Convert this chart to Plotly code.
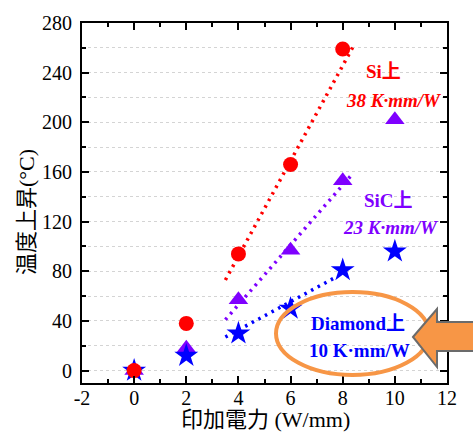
import plotly.graph_objects as go

# ---- data ----
power = [0, 2, 4, 6, 8, 10]
si_x = [0, 2, 4, 6, 8]
si_y = [0, 38, 94, 166, 259]
sic_y = [0, 18, 57, 97, 153, 202]
dia_y = [0, 12, 30, 50, 81, 96]

si_fit_x = [3.5, 8.4]
si_fit_y = [73, 261]
sic_fit_x = [3.5, 8.4]
sic_fit_y = [41, 159]
dia_fit_x = [3.5, 7.8]
dia_fit_y = [27, 76]

x_ticks = [-2, 0, 2, 4, 6, 8, 10, 12]
y_ticks = [0, 40, 80, 120, 160, 200, 240, 280]

RED = "#FF0000"
PURPLE = "#7F00FF"
BLUE = "#0000FF"
ORANGE = "#F79646"

W, H = 473, 432
L, R, T, B = 82, 447, 23, 383


def px(x):
    return (x - L) / (R - L)


def py(y):
    return (B - y) / (B - T)


fig = go.Figure()

fig.add_trace(go.Scatter(x=power, y=sic_y, mode="markers",
                         marker=dict(symbol="triangle-up", size=17, color=PURPLE),
                         showlegend=False))
fig.add_trace(go.Scatter(x=power, y=dia_y, mode="markers",
                         marker=dict(symbol="star", size=18, color=BLUE),
                         showlegend=False))
fig.add_trace(go.Scatter(x=si_x, y=si_y, mode="markers",
                         marker=dict(symbol="circle", size=15, color=RED),
                         showlegend=False))

for fx, fy, c in [(si_fit_x, si_fit_y, RED), (sic_fit_x, sic_fit_y, PURPLE),
                  (dia_fit_x, dia_fit_y, BLUE)]:
    fig.add_trace(go.Scatter(x=fx, y=fy, mode="lines",
                             line=dict(color=c, width=3.5, dash="2.5px,5px"),
                             showlegend=False))

serif = "Liberation Serif, Noto Sans CJK JP"

annos = [
    ("<b>Si上</b>", 383, 72, RED),
    ("<b><i>38 K·mm/W</i></b>", 393, 100, RED),
    ("<b>SiC上</b>", 388, 200, PURPLE),
    ("<b><i>23 K·mm/W</i></b>", 390, 227, PURPLE),
    ("<b>Diamond上</b>", 358, 323, BLUE),
    ("<b>10 K·mm/W</b>", 359, 350, BLUE),
]
for text, ax, ay, c in annos:
    fig.add_annotation(x=px(ax), y=py(ay), xref="paper", yref="paper",
                       text=text, showarrow=False, xanchor="center", yanchor="middle",
                       font=dict(family=serif, size=19, color=c))

# axis titles
fig.add_annotation(x=px(265), y=py(419), xref="paper", yref="paper",
                   text="印加電力 (W/mm)", showarrow=False,
                   xanchor="center", yanchor="middle",
                   font=dict(family=serif, size=22, color="black"))
fig.add_annotation(x=px(26), y=py(212), xref="paper", yref="paper",
                   text="温度上昇(°C)", showarrow=False, textangle=-90,
                   xanchor="center", yanchor="middle",
                   font=dict(family=serif, size=22, color="black"))

# orange ellipse
fig.add_shape(type="circle", xref="paper", yref="paper",
              x0=px(276), x1=px(429), y0=py(375), y1=py(292),
              line=dict(color=ORANGE, width=4), layer="above")

# block arrow
pts = [(413, 337), (437, 309), (437, 322), (480, 322), (480, 351), (437, 351), (437, 367)]
path = "M " + " L ".join(f"{px(a):.4f},{py(b):.4f}" for a, b in pts) + " Z"
fig.add_shape(type="path", xref="paper", yref="paper", path=path,
              fillcolor=ORANGE, line=dict(color="#6b6b6b", width=2), layer="above")

axis_common = dict(
    showline=True, linecolor="black", linewidth=2, mirror="allticks",
    ticks="inside", ticklen=7, tickwidth=2, tickcolor="black",
    zeroline=False, showgrid=False,
    tickfont=dict(family="Liberation Serif", size=20, color="black"),
)

fig.update_xaxes(range=[-2, 12], tickmode="array", tickvals=x_ticks,
                 ticktext=[str(v) for v in x_ticks],
                 minor=dict(dtick=1, tick0=0, ticks="inside", ticklen=4,
                            tickwidth=2, tickcolor="black"),
                 ticklabelstandoff=-4,
                 **axis_common)
fig.update_yaxes(range=[-10, 280], tickmode="array", tickvals=y_ticks,
                 ticktext=[str(v) for v in y_ticks],
                 minor=dict(dtick=20, tick0=0, ticks="inside", ticklen=4,
                            tickwidth=2, tickcolor="black",
                            showgrid=True, gridcolor="#d4d4d4", griddash="dot",
                            gridwidth=1),
                 ticklabelstandoff=4,
                 **axis_common)

fig.update_layout(width=W, height=H,
                  margin=dict(l=L, r=W - R, t=T, b=H - B),
                  paper_bgcolor="white", plot_bgcolor="white",
                  showlegend=False)

fig.write_html("out.html", config={"displayModeBar": False},
               post_script="document.body.style.margin='0';document.body.style.padding='0';")
